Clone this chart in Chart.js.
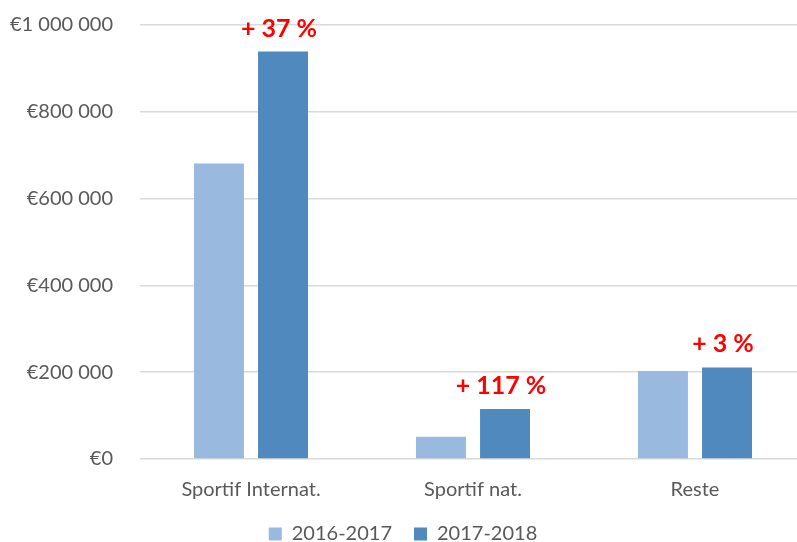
<!DOCTYPE html>
<html>
<head>
<meta charset="utf-8">
<script src="https://cdn.jsdelivr.net/npm/chart.js@4"></script>
<style>
  html,body{margin:0;padding:0;background:#fff;overflow:hidden}
  #wrap{width:834px;height:542px;position:relative}
</style>
</head>
<body>
<div id="wrap"><canvas id="c"></canvas></div>
<script>
// data
const categories = ['Sportif Internat.', 'Sportif nat.', 'Reste'];
const seriesNames = ['2016-2017', '2017-2018'];
const values2016 = [681000, 51000, 203000];
const values2017 = [939000, 115000, 211000];
const changeLabels = ['+ 37 %', '+ 117 %', '+ 3 %'];
const yTicks = [0, 200000, 400000, 600000, 800000, 1000000];

const FONT = 'Lato, "Open Sans", sans-serif';
const GREY = '#595959';
const LEG_PAD = 22;

function euro(v){
  return '€' + String(v).replace(/\B(?=(\d{3})+(?!\d))/g, ' ');
}

// red % labels above the 2017-2018 bars
const changePlugin = {
  id:'changeLabels',
  afterDatasetsDraw(chart){
    const ctx = chart.ctx;
    const meta = chart.getDatasetMeta(1);
    ctx.save();
    ctx.fillStyle = '#FF0000';
    ctx.font = 'bold 25px ' + FONT;
    ctx.textAlign = 'center';
    ctx.textBaseline = 'middle';
    meta.data.forEach((bar,i)=>{
      ctx.fillText(changeLabels[i], bar.x - 4, bar.y - 23);
    });
    ctx.restore();
  }
};

// legend row sits near the bottom edge; x labels must not be clipped
const layoutTweak = {
  id:'layoutTweak',
  afterLayout(chart){
    const L = chart.legend;
    const top = 502;
    L.bottom = top + L.height; L.top = top;
    if (L.adjustHitBoxes) L.adjustHitBoxes();
    const x = chart.scales.x;
    x.bottom = 505; x.height = x.bottom - x.top;
  }
};

new Chart(document.getElementById('c'), {
  type:'bar',
  data:{
    labels:categories,
    datasets:[
      {label:seriesNames[0], data:values2016, backgroundColor:'#99B9DF'},
      {label:seriesNames[1], data:values2017, backgroundColor:'#4F89BD'}
    ]
  },
  options:{
    responsive:true,
    maintainAspectRatio:false,
    animation:false,
    categoryPercentage:0.577,
    barPercentage:0.78,
    layout:{padding:{left:0, right:28, top:25, bottom:0}},
    plugins:{
      legend:{
        position:'bottom',
        labels:{
          font:{family:FONT, size:20}, color:GREY,
          boxWidth:13, boxHeight:13, padding:LEG_PAD
        }
      },
      tooltip:{enabled:false}
    },
    scales:{
      x:{
        afterFit(scale){ scale.height = 31; },
        grid:{display:false, drawTicks:false},
        border:{display:false},
        ticks:{font:{family:FONT, size:20}, color:GREY, padding:19}
      },
      y:{
        min:0, max:1000000,
        afterFit(scale){ scale.width = 140; scale.paddingTop = 0; scale.paddingBottom = 0; },
        afterBuildTicks(scale){ scale.ticks = yTicks.map(v=>({value:v})); },
        grid:{color:'#D9D9D9', lineWidth:1.5, drawTicks:false},
        border:{display:false},
        ticks:{font:{family:FONT, size:20}, color:GREY, padding:27, callback:v=>euro(v)}
      }
    }
  },
  plugins:[changePlugin, layoutTweak]
});
</script>
</body>
</html>
